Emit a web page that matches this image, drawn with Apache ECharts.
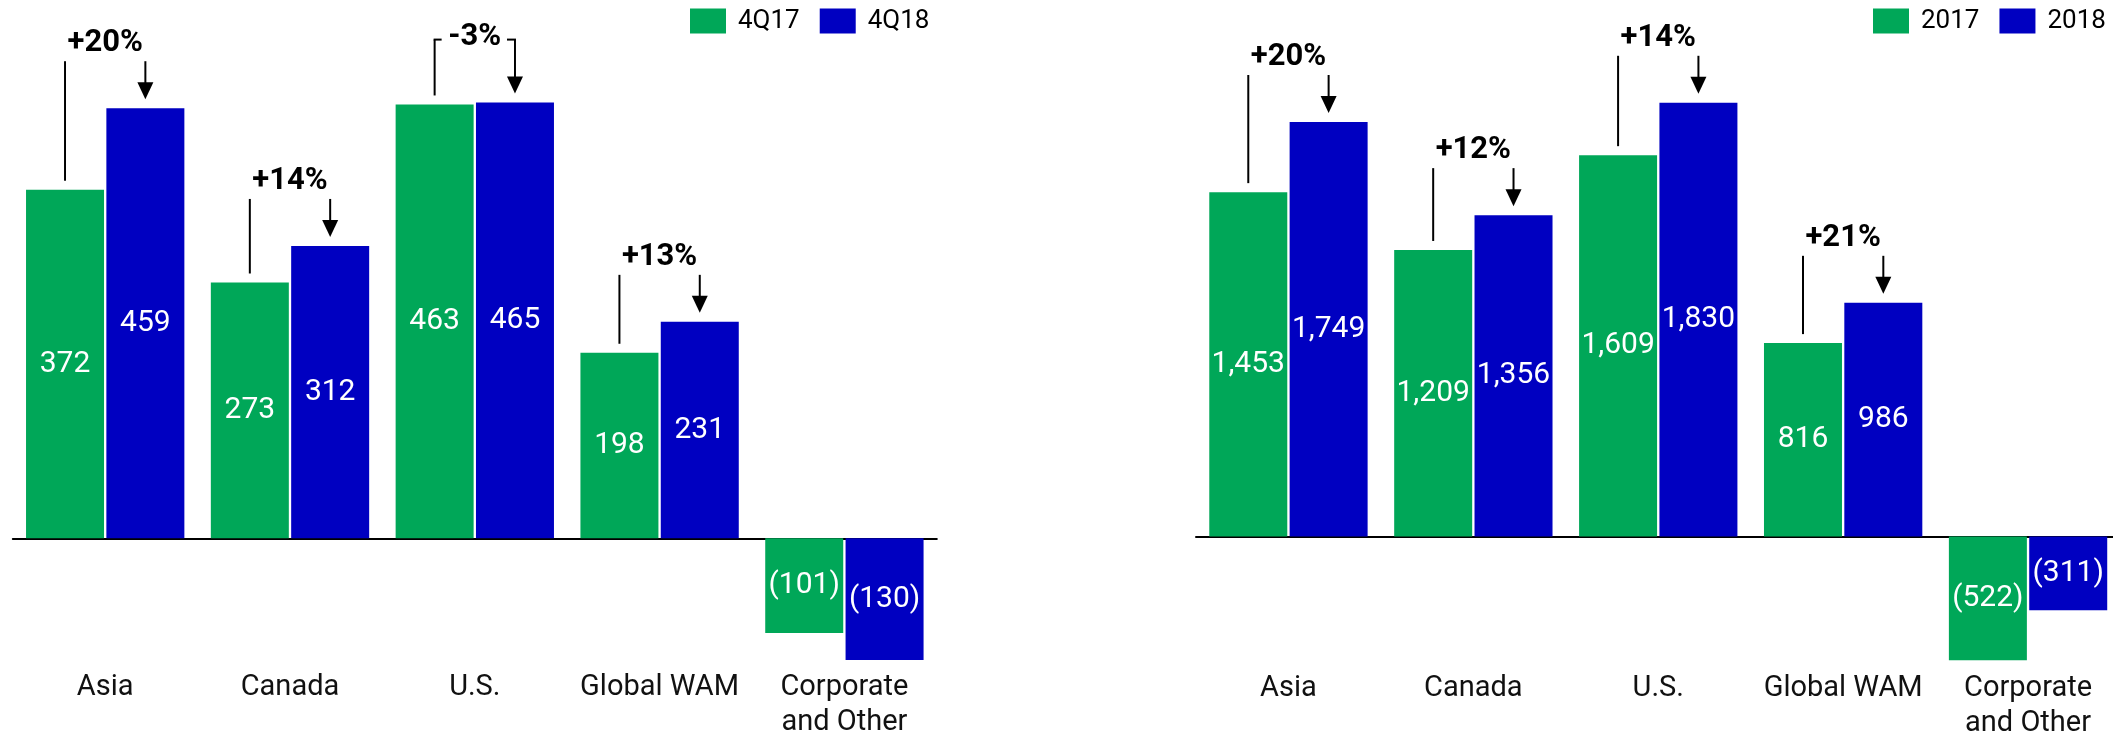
<!DOCTYPE html>
<html><head><meta charset="utf-8">
<script src="https://cdn.jsdelivr.net/npm/echarts@6/dist/echarts.min.js"></script>
<style>html,body{margin:0;padding:0;background:#fff}#c{width:2113px;height:738px}</style>
</head><body><div id="c"></div>
<script>
// ---- data ----
const categories = ['Asia', 'Canada', 'U.S.', 'Global WAM', 'Corporate\nand Other'];
const quarterNames = ['4Q17', '4Q18'];
const q4_17 = [372, 273, 463, 198, -101];
const q4_18 = [459, 312, 465, 231, -130];
const quarterChange = ['+20%', '+14%', '-3%', '+13%', ''];
const yearNames = ['2017', '2018'];
const fy2017 = [1453, 1209, 1609, 816, -522];
const fy2018 = [1749, 1356, 1830, 986, -311];
const yearChange = ['+20%', '+12%', '+14%', '+21%', ''];

// ---- style ----
const GREEN = '#00A758', BLUE = '#0000C1';
const FONT = 'Roboto';
const BAR_W = 78, GAP = 0.03;
const OFF = (BAR_W + BAR_W * GAP) / 2;

function fmt(v) {
  const s = Math.abs(v).toLocaleString('en-US');
  return v < 0 ? '(' + s + ')' : s;
}

function barSeries(name, data, color, g) {
  return {
    name, type: 'bar', data, xAxisIndex: g * 2, yAxisIndex: g,
    barWidth: BAR_W, barGap: (GAP * 100) + '%',
    itemStyle: { color },
    label: { show: true, position: 'inside', color: '#fff', fontFamily: FONT, fontSize: 30,
      formatter: p => fmt(p.value) },
    emphasis: { disabled: true }
  };
}

function annotSeries(g, gd, bd, pct) {
  const data = [], texts = [];
  pct.forEach((p, i) => { if (p) { data.push([i, gd[i], bd[i]]); texts.push(p); } });
  return {
    type: 'custom', xAxisIndex: g * 2, yAxisIndex: g, clip: false, silent: true, z: 10,
    encode: { x: 0, y: [1, 2] },
    data,
    renderItem(params, api) {
      const i = api.value(0), gv = api.value(1), bv = api.value(2);
      const text = texts[params.dataIndex];
      const cx = api.coord([i, 0])[0];
      const gx = cx - OFF, bx = cx + OFF;
      const gTop = api.coord([i, gv])[1], bTop = api.coord([i, bv])[1];
      const close = Math.abs(bv - gv) < 0.02 * Math.abs(gv);
      const top = Math.min(gTop, bTop) - (close ? 63 : 47);
      const ls = { stroke: '#000', lineWidth: 2 };
      const tip = bTop - 9;
      const children = [
        { type: 'line', shape: { x1: gx, y1: top, x2: gx, y2: gTop - 9 }, style: ls },
        { type: 'line', shape: { x1: bx, y1: top, x2: bx, y2: tip - 14 }, style: ls },
        { type: 'polygon', shape: { points: [[bx - 8, tip - 17], [bx + 8, tip - 17], [bx, tip]] }, style: { fill: '#000' } },
        { type: 'text', x: cx, y: close ? top - 2 : top - 18,
          style: { text, fill: '#000', fontFamily: FONT, fontWeight: 'bold', fontSize: 31, align: 'center', verticalAlign: 'middle' } }
      ];
      if (close) {
        children.push({ type: 'line', shape: { x1: gx - 1, y1: top, x2: gx + 7, y2: top }, style: ls });
        children.push({ type: 'line', shape: { x1: bx - 8, y1: top, x2: bx + 1, y2: top }, style: ls });
      }
      return { type: 'group', children };
    }
  };
}

// label axis (bottom of grid) + zero-line axis
function xAxes(g) {
  return [
    {
      type: 'category', gridIndex: g, data: categories, position: 'bottom',
      axisLine: { show: false, onZero: false }, axisTick: { show: false },
      axisLabel: { show: true, interval: 0, margin: 4, color: '#111', fontFamily: FONT, fontSize: 29, lineHeight: 35 }
    },
    {
      type: 'category', gridIndex: g, data: categories, position: 'top',
      axisLine: { show: true, onZero: true, lineStyle: { color: '#000', width: 2 } },
      axisTick: { show: false }, axisLabel: { show: false }
    }
  ];
}
function yAxis(g, min, max) {
  return { type: 'value', gridIndex: g, min, max, show: false, splitLine: { show: false } };
}
function legend(names, left) {
  return {
    data: names, left, top: 8, padding: 0, itemWidth: 36, itemHeight: 25, itemGap: 20,
    icon: 'rect', selectedMode: false,
    textStyle: { color: '#000', fontFamily: FONT, fontSize: 26, padding: [0, 0, 0, 7] }
  };
}

const chart = echarts.init(document.getElementById('c'), null, { renderer: 'canvas' });
chart.setOption({
  animation: false,
  backgroundColor: '#fff',
  legend: [legend(quarterNames, 690), legend(yearNames, 1873)],
  grid: [
    { left: 12.8, top: 22.95, width: 924, height: 643.7, containLabel: false, outerBoundsMode: 'none' },
    { left: 1196, top: 15.1, width: 924.5, height: 651.75, containLabel: false, outerBoundsMode: 'none' }
  ],
  xAxis: [...xAxes(0), ...xAxes(1)],
  yAxis: [yAxis(0, -137, 550), yAxis(1, -550, 2200)],
  series: [
    barSeries(quarterNames[0], q4_17, GREEN, 0),
    barSeries(quarterNames[1], q4_18, BLUE, 0),
    barSeries(yearNames[0], fy2017, GREEN, 1),
    barSeries(yearNames[1], fy2018, BLUE, 1),
    annotSeries(0, q4_17, q4_18, quarterChange),
    annotSeries(1, fy2017, fy2018, yearChange)
  ]
});
</script></body></html>
